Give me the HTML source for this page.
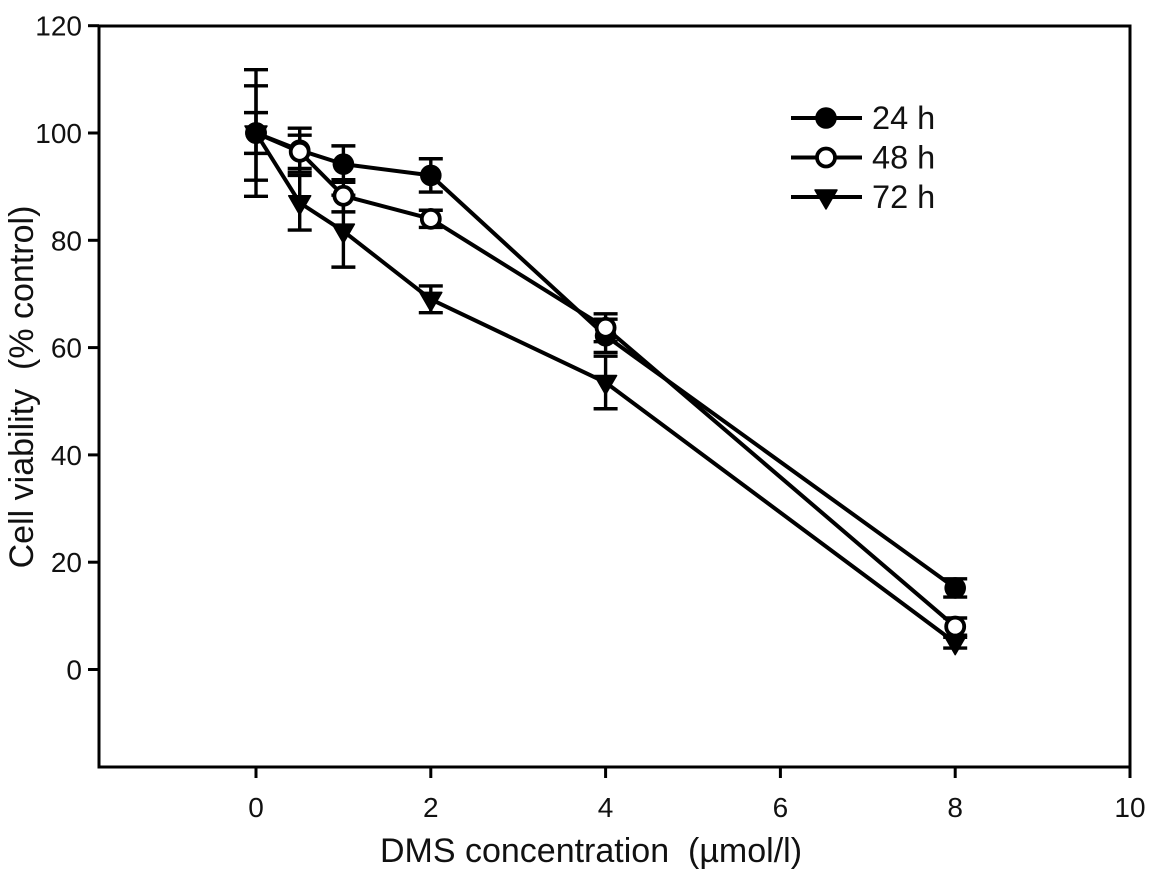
<!DOCTYPE html>
<html>
<head>
<meta charset="utf-8">
<title>Cell viability chart</title>
<style>
html,body{margin:0;padding:0;background:#fff;}
svg{display:block;}
text{font-family:"Liberation Sans",sans-serif;fill:#111;}
</style>
</head>
<body>
<svg id="chart" width="1158" height="873" viewBox="0 0 1158 873" xmlns="http://www.w3.org/2000/svg"></svg>
<script>
const doses = [0, 0.5, 1, 2, 4, 8];
const values24h = [100, 96.8, 94.2, 92.1, 62.2, 15.2];
const errors24h = [3.8, 4.1, 3.4, 3.1, 3.1, 1.7];
const values48h = [100, 96.5, 88.3, 84, 63.7, 8];
const errors48h = [8.8, 3.1, 3, 1.6, 2.6, 1.6];
const values72h = [100, 87, 81.7, 69, 53.5, 5];
const errors72h = [11.8, 5.1, 6.7, 2.5, 4.9, 1];
const xTicks = [0, 2, 4, 6, 8, 10];
const yTicks = [0, 20, 40, 60, 80, 100, 120];
const legendLabels = ['24 h', '48 h', '72 h'];

const NS = 'http://www.w3.org/2000/svg';
const svg = document.getElementById('chart');
const xScale = v => 256 + v * 87.4;
const yScale = v => 669.5 - v * 5.365;

function make(tag, attrs, parent) {
  const el = document.createElementNS(NS, tag);
  for (const k in attrs) el.setAttribute(k, attrs[k]);
  (parent || svg).appendChild(el);
  return el;
}
function seg(x1, y1, x2, y2, w, parent) {
  return make('line', {x1, y1, x2, y2, stroke: '#000', 'stroke-width': w}, parent);
}
function marker(kind, x, y, parent) {
  let el;
  if (kind === 'filled') {
    el = make('circle', {cx: x, cy: y, r: 10.8, fill: '#000'}, parent);
  } else if (kind === 'open') {
    el = make('circle', {cx: x, cy: y, r: 9, fill: '#fff', stroke: '#000', 'stroke-width': 3.8}, parent);
  } else {
    const pts = (x - 11) + ',' + (y - 7) + ' ' + (x + 11) + ',' + (y - 7) + ' ' + x + ',' + (y + 12);
    el = make('polygon', {points: pts, fill: '#000', stroke: '#000', 'stroke-width': 1.5, 'stroke-linejoin': 'round'}, parent);
  }
  return el;
}

const series = [
  {id: '72h', kind: 'triangle', vals: values72h, errs: errors72h},
  {id: '48h', kind: 'open', vals: values48h, errs: errors48h},
  {id: '24h', kind: 'filled', vals: values24h, errs: errors24h}
];

/* axes frame */
const frame = make('rect', {x: 99, y: 26, width: 1031, height: 741, fill: 'none', stroke: '#000', 'stroke-width': 3});



/* y axis */
const yAxis = make('g', {});


yTicks.forEach(t => {
  const y = yScale(t);
  const tick = seg(88, y, 99, y, 3, yAxis);
  
  
  const label = make('text', {x: 82, y: y + 10, 'text-anchor': 'end', 'font-size': 28}, yAxis);
  
  
  label.textContent = t;
});
const yTitle = make('text', {x: 0, y: 0, 'text-anchor': 'middle', 'font-size': 34, transform: 'translate(33,387) rotate(-90)'});


yTitle.style.whiteSpace = 'pre';
yTitle.textContent = 'Cell viability  (% control)';

/* x axis */
const xAxis = make('g', {});


xTicks.forEach(t => {
  const x = xScale(t);
  const tick = seg(x, 767, x, 778, 3, xAxis);
  
  
  const label = make('text', {x: x, y: 817, 'text-anchor': 'middle', 'font-size': 28}, xAxis);
  
  
  label.textContent = t;
});
const xTitle = make('text', {x: 591, y: 862, 'text-anchor': 'middle', 'font-size': 34});


xTitle.style.whiteSpace = 'pre';
xTitle.textContent = 'DMS concentration  (\u00b5mol/l)';

/* error bars */
series.forEach(s => {
  const g = make('g', {});
  
  
  doses.forEach((d, i) => {
    const x = xScale(d);
    const top = yScale(s.vals[i] + s.errs[i]);
    const bot = yScale(s.vals[i] - s.errs[i]);
    seg(x, top, x, bot, 3.4, g);
    seg(x - 12, top, x + 12, top, 3.4, g);
    seg(x - 12, bot, x + 12, bot, 3.4, g);
  });
});

/* lines */
series.forEach(s => {
  const pts = doses.map((d, i) => xScale(d) + ',' + yScale(s.vals[i])).join(' ');
  const line = make('polyline', {points: pts, fill: 'none', stroke: '#000', 'stroke-width': 4, 'stroke-linejoin': 'round'});
  
  
});

/* markers: the open circles sit above the filled ones except at the baseline dose */
const s72 = series[0], s48 = series[1], s24 = series[2];
doses.forEach((d, i) => {
  const order = i === 0 ? [s72, s48, s24] : [s72, s24, s48];
  order.forEach(s => {
    const m = marker(s.kind, xScale(d), yScale(s.vals[i]));
    
    
  });
});

/* legend */
const legend = make('g', {});


const legendKinds = ['filled', 'open', 'triangle'];
legendLabels.forEach((txt, i) => {
  const y = 118 + i * 39.5;
  const entry = make('g', {}, legend);
  
  
  seg(791, y, 862, y, 4, entry);
  marker(legendKinds[i], 826, y, entry);
  const label = make('text', {x: 872, y: y + 11, 'font-size': 32.5}, entry);
  label.textContent = txt;
});
</script>
</body>
</html>
